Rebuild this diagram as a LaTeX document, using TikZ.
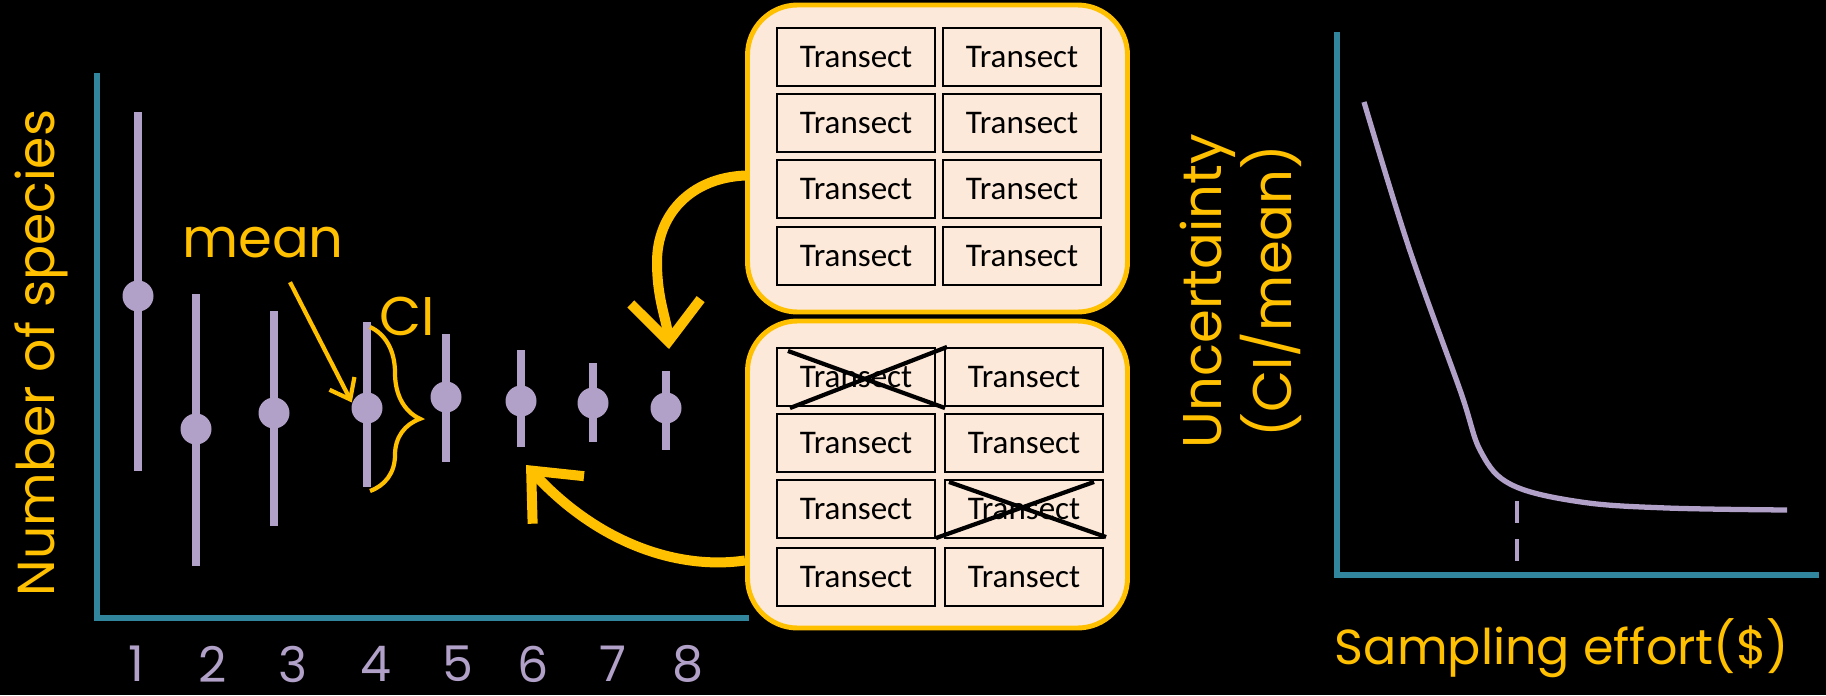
\documentclass[tikz,border=0pt]{standalone}
\usepackage{fontspec}
\setmainfont{Carlito}
\newfontfamily\handfont{Poppins}
\usepackage{tikz}
\usetikzlibrary{arrows.meta, calc, decorations.pathreplacing}

\definecolor{gold}{HTML}{FFC000}
\definecolor{lavender}{HTML}{B1A0C7}
\definecolor{axisteal}{HTML}{31859C}
\definecolor{peach}{HTML}{FDE9D9}

\begin{document}
\begin{tikzpicture}[x=0.1mm, y=-0.1mm,
    axis/.style={axisteal, line width=1.7pt},
    bar/.style={lavender, line width=2.3pt},
    dot/.style={circle, fill=lavender, inner sep=0pt, minimum size=3.1mm},
    hand/.style={gold, inner sep=0pt, font=\handfont\fontsize{15.5}{20}\selectfont},
    smallhand/.style={hand, font=\handfont\fontsize{14}{18}\selectfont},
    numlbl/.style={smallhand, text=lavender},
    panel/.style={draw=gold, line width=1.4pt, fill=peach, rounded corners=5mm,
        minimum width=38mm, minimum height=30.7mm},
    transect/.style={draw=black, line width=0.6pt, fill=peach, inner sep=0pt,
        minimum width=15.8mm, minimum height=5.8mm, font=\fontsize{9.4}{11}\selectfont},
    cross/.style={black, line width=1.2pt},
    bigarrow/.style={gold, line width=1mm, -{Straight Barb[length=4mm, width=7mm]}},
    meanarrow/.style={gold, line width=1.2pt, -{Straight Barb[length=1.8mm, width=2.8mm]}},
    brace/.style={gold, line width=1.2pt, decorate,
        decoration={brace, amplitude=5mm, aspect=0.56}},
    curve/.style={lavender, line width=1.5pt},
    dashmark/.style={lavender, line width=1.3pt, dash pattern=on 2.2mm off 1.6mm}]

    % background
    \fill[black] (0,0) rectangle (1826,695);
    \useasboundingbox (0,0) rectangle (1826,695);

    % left plot: axes
    \draw[axis] (97,73) -- (97,618) -- (749,618);
    \node[hand, rotate=90, font=\handfont\fontsize{14.8}{18}\selectfont] (ylab) at (41,353) {Number of species};

    % error bars with means
    \foreach \i/\x/\t/\b/\m in {1/138/112/471/296, 2/196/294/566/429, 3/274/311/526/413,
        4/367/322/487/408, 5/446/334/462/397, 6/521/350/447/401, 7/593/363/442/403,
        8/666/371/450/408} {
        \draw[bar] (\x,\t) coordinate (t\i) -- (\x,\b) coordinate (b\i);
        \node[dot] (m\i) at (\x,\m) {};
    }

    % sample numbers
    \foreach \i/\x in {1/136, 2/213, 3/293, 4/376, 5/458, 6/533, 7/613, 8/688}
        \node[numlbl] (n\i) at (\x,664) {\i};

    % mean and CI
    \node[hand] (mean) at (263,243) {mean};
    \draw[meanarrow] ($(mean.south)+(27,23)$) -- (m4.160);
    \draw[brace] ($(t4)+(3,5)$) -- ($(b4)+(3,4)$);
    \node[hand] (ci) at (407,316) {CI};

    % panel with all transects
    \node[panel] (topbox) at (937.5,158.5) {};
    \foreach \r/\y in {1/57, 2/123, 3/189, 4/256} {
        \node[transect] (ta\r) at (856,\y) {Transect};
        \node[transect] (tb\r) at (1022,\y) {Transect};
    }

    % panel with transects removed
    \node[panel] (botbox) at (937.5,474.5) {};
    \foreach \r/\y in {1/377, 2/443, 3/509, 4/577} {
        \node[transect] (ba\r) at (856,\y) {Transect};
        \node[transect] (bb\r) at (1024,\y) {Transect};
    }
    \draw[cross] ($(ba1.north west)+(12,4)$) -- ($(ba1.south east)+(9,1)$);
    \draw[cross] ($(ba1.south west)+(14,1)$) -- ($(ba1.north east)+(11,0)$);
    \draw[cross] ($(bb3.north west)+(5,3)$) -- ($(bb3.south east)+(2,-2)$);
    \draw[cross] ($(bb3.south west)+(-8,-1)$) -- ($(bb3.north east)+(-10,3)$);

    % curved arrows from the panels
    \draw[bigarrow] ($(topbox.west)+(0,17)$) .. controls (690,178) and (657,215) .. (657,262)
        .. controls (657,300) and (667,320) .. ($(t8)+(3,-22)$);
    \draw[bigarrow] ($(botbox.south west)+(0,-70)$) .. controls (680,570) and (600,545)
        .. ($(b6)+(5,18)$);

    % right plot: axes
    \draw[axis] (1337,32) -- (1337,575) -- (1819,575);
    \node[hand, rotate=90, align=center] (ulab) at (1241,291) {Uncertainty\\(CI/mean)};
    \node[smallhand] (xlab) at (1562,648) {Sampling effort(\$)};

    % uncertainty curve
    \draw[curve] plot[smooth, tension=0.6] coordinates {(1364,102) (1409,248) (1460,390)
        (1481,452) (1512,485) (1581,502) (1667,508) (1787,510)};
    \draw[dashmark] (1517,501) -- (1517,561);

\end{tikzpicture}
\end{document}
